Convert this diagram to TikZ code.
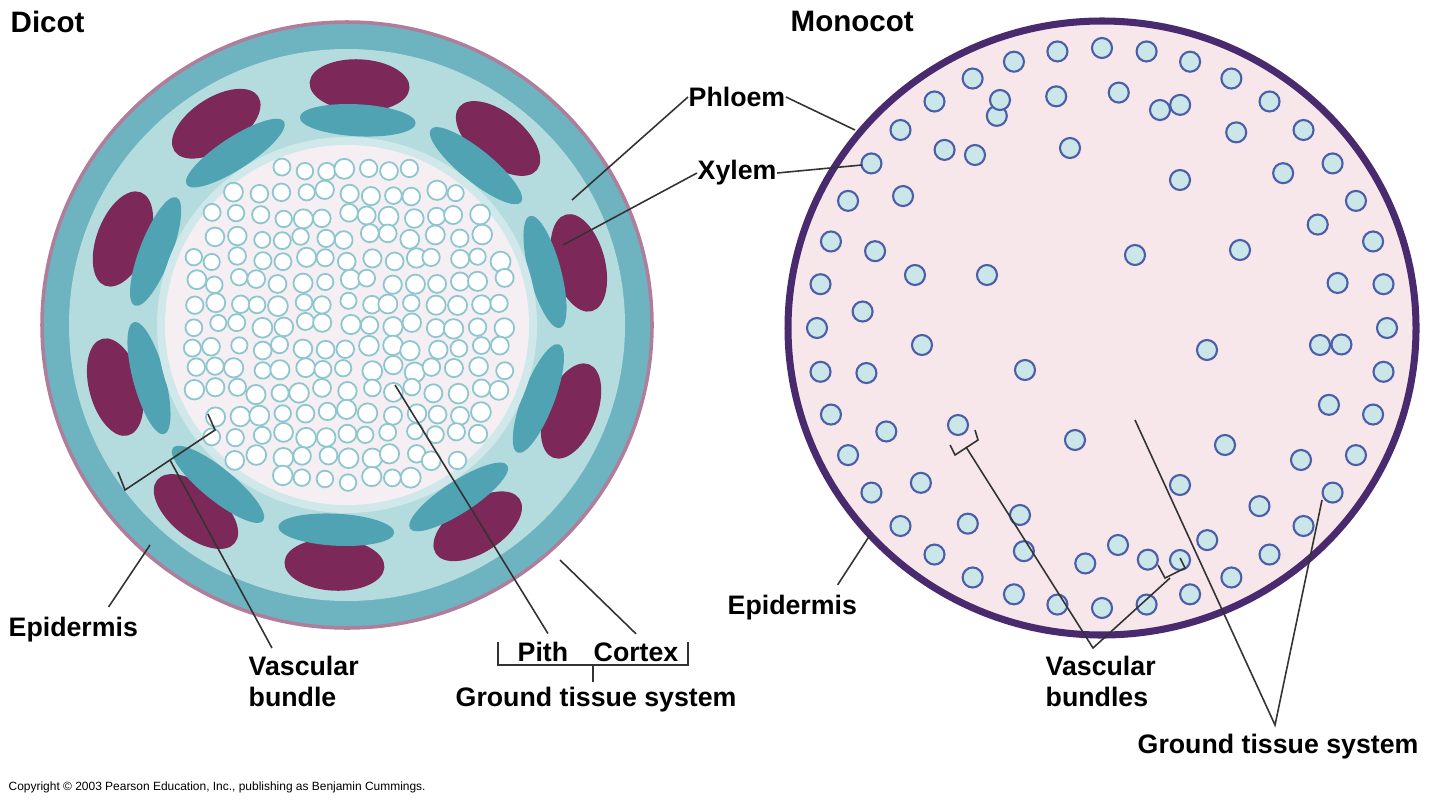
\documentclass[tikz,border=0pt]{standalone}
\usepackage{fontspec}
\setmainfont{Liberation Sans}
\usetikzlibrary{calc}
\definecolor{cortexblue}{HTML}{6DB3C0}
\definecolor{paleblue}{HTML}{B4DCDF}
\definecolor{phloemred}{HTML}{7C2858}
\definecolor{xylemteal}{HTML}{4FA3B2}
\definecolor{pithpink}{HTML}{F5EEF2}
\definecolor{cellblue}{HTML}{8CC6CE}
\definecolor{monopink}{HTML}{F7E6EA}
\definecolor{rimpurple}{HTML}{4A2A6E}
\definecolor{bundleblue}{HTML}{4B5EA8}
\tikzset{
  lbl/.style={font=\fontsize{7.6}{9}\selectfont\bfseries, inner sep=0pt},
  leader/.style={draw=black!80, line width=0.45pt},
  bundle/.style={circle, draw=bundleblue, line width=0.6pt, fill=paleblue!70, minimum size=0.2cm, inner sep=0pt},
}
\begin{document}
\begin{tikzpicture}[x=0.01cm, y=-0.01cm]
				\useasboundingbox (0,0) rectangle (1440,806);
				% dicot stem
				\coordinate (D) at (347,325);
				\fill[cortexblue] (D) ellipse (305 and 303);
				\draw[phloemred!60, line width=1pt] (D) ellipse (305 and 303);
				\fill[paleblue] (D) ellipse (278 and 276);
				\foreach \a in {0,36,...,324}{
				  \begin{scope}[shift={(D)}, rotate=\a+15]
				    \fill[phloemred] (240,0) ellipse (26 and 50);
				    \fill[xylemteal] (205,0) ellipse (16 and 58);
				  \end{scope}
				}
				\fill[white!60!cellblue] (D) ellipse (190 and 188);
				\fill[pithpink] (D) ellipse (182 and 180);
				\pgfmathsetseed{7}
				\foreach \i in {-176,-154,...,176}{
				  \foreach \j in {-176,-154,...,176}{
				    \pgfmathsetmacro{\rr}{veclen(\i,\j)}
				    \ifdim\rr pt<176pt
				      \draw[cellblue, line width=0.5pt, fill=white] ($(D)+(\i+rand*4,\j+rand*4)$) circle (8+rnd*2);
				    \fi
				  }
				}
				% monocot stem
				\coordinate (M) at (1102,328);
				\fill[monopink] (M) ellipse (314 and 307);
				\draw[rimpurple, line width=2pt] (M) ellipse (314 and 307);
				\foreach \a in {0,9,...,351}{
				  \node[bundle] at ($(M)+(\a:285 and 280)$) {};
				}
				\foreach \a in {4,19,...,349}{
				  \node[bundle] at ($(M)+(\a:240 and 236)$) {};
				}
				\foreach \p in {(1135,255),(987,275),(1240,250),(915,275),(1025,370),(1207,350),(922,345),
				  (1075,440),(1225,445),(958,425),(1180,485),(1020,515),(1070,148),(1180,180),(975,155),
				  (1000,100),(1160,110),(1118,545),(1180,560),(1320,345)}{
				  \node[bundle] at \p {};
				}
				% text
				\node[lbl, font=\fontsize{8.4}{10}\selectfont\bfseries, anchor=north west] (dicot) at (10,10) {Dicot};
				\node[lbl, font=\fontsize{8.4}{10}\selectfont\bfseries, anchor=north west] (monocot) at (790,10) {Monocot};
				\node[lbl, anchor=west] (phloem) at (688,97) {Phloem};
				\node[lbl, anchor=west] (xylem) at (697,173) {Xylem};
				\node[lbl, anchor=west] (epiD) at (8,630) {Epidermis};
				\node[lbl, align=left, anchor=north west] (vascD) at (248,655) {Vascular\\bundle};
				\node[lbl, anchor=west] (pith) at (517,652) {Pith};
				\node[lbl, anchor=west] (cortex) at (593,652) {Cortex};
				\node[lbl, anchor=west] (groundD) at (455,700) {Ground tissue system};
				\node[lbl, anchor=west] (epiM) at (727,608) {Epidermis};
				\node[lbl, align=left, anchor=north west] (vascM) at (1045,655) {Vascular\\bundles};
				\node[lbl, anchor=west] (groundM) at (1137,747) {Ground tissue system};
				\node[font=\fontsize{3.4}{4}\selectfont, anchor=west, inner sep=0pt] (copy) at (8,787)
				  {Copyright \textcopyright{} 2003 Pearson Education, Inc., publishing as Benjamin Cummings.};
				% leaders
				\coordinate (phD) at (572,200);
				\coordinate (phM) at (855,130);
				\coordinate (xyD) at (563,245);
				\coordinate (xyM) at (862,165);
				\draw[leader] (phloem.west) -- (phD);
				\draw[leader] (phloem.east) -- (phM);
				\draw[leader] (xylem.west) -- (xyD);
				\draw[leader] (xylem.east) -- (xyM);
				\draw[leader] (epiD.north east) ++(-30,-10) -- (150,545);
				\draw[leader] (118,472) -- (125,490) -- (215,430) -- (208,414);
				\draw[leader] (170,460) -- (272,648);
				\draw[leader] (pith.north) ++(5,-8) -- (395,385);
				\draw[leader] (cortex.north) ++(0,-8) -- (560,560);
				\draw[leader] (498,642) -- (498,665) -- (688,665) -- (688,642);
				\draw[leader] (593,665) -- (593,682);
				\draw[leader] (epiM.north east) ++(-20,-10) -- (870,535);
				\draw[leader] (950,445) -- (955,455) -- (978,440) -- (975,430);
				\draw[leader] (966,447) -- (1093,648) -- (1170,578);
				\draw[leader] (1158,565) -- (1165,578) -- (1185,568) -- (1180,558);
				\draw[leader] (1135,420) -- (1275,725) -- (1322,500);
\end{tikzpicture}
\end{document}
